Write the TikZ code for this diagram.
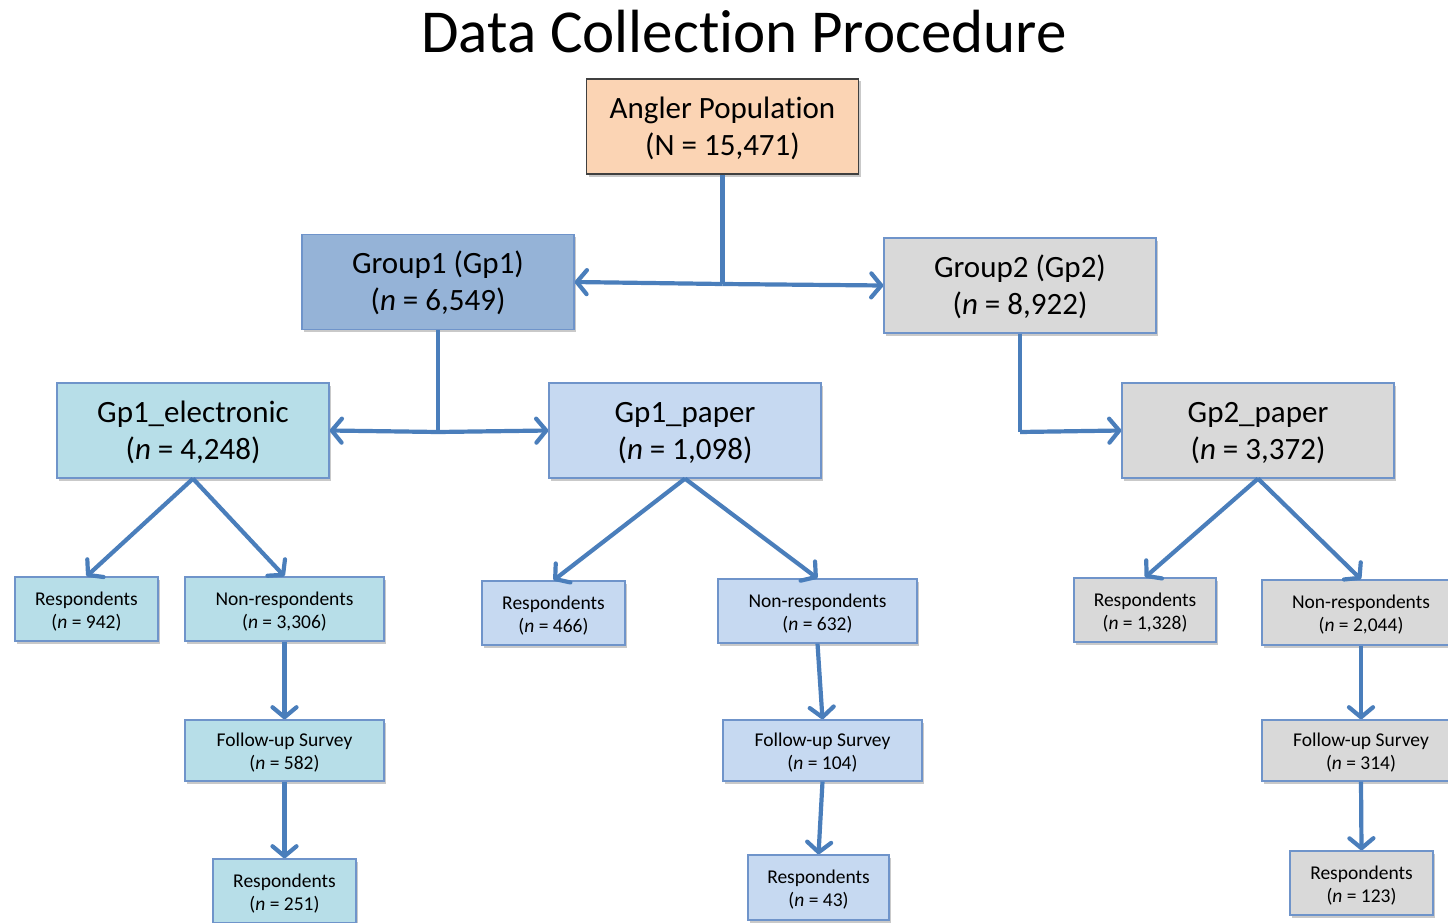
\documentclass[tikz,border=0pt]{standalone}
\usepackage{fontspec}
\setmainfont{Carlito}[RawFeature={-liga;-clig;-calt;-dlig}]
\usetikzlibrary{arrows.meta,shadows}
\definecolor{peach}{HTML}{FBD4B4}
\definecolor{gblue}{HTML}{95B3D7}
\definecolor{ecyan}{HTML}{B7DEE8}
\definecolor{pblue}{HTML}{C6D9F1}
\definecolor{pgrey}{HTML}{D9D9D9}
\definecolor{bordblue}{HTML}{6F94CA}
\definecolor{arrowblue}{HTML}{4A7EBB}
\tikzset{
  x=1pt, y=-1pt,
  basebox/.style={draw=bordblue, line width=1.3pt, inner sep=0pt,
    drop shadow={shadow xshift=2pt, shadow yshift=-2.5pt, opacity=0.35, fill=black!60}},
  bigbox/.style={basebox, minimum width=272pt, minimum height=95pt,
    font=\fontsize{31}{37}\selectfont},
  smallbox/.style={basebox, minimum height=64pt,
    font=\fontsize{19.5}{23}\selectfont},
  conn/.style={draw=arrowblue, line width=4.2pt},
  arr/.style={conn, -{Straight Barb[length=10pt,width=24pt,round]}},
}
\newcommand{\boxtext}[2]{\raisebox{-3pt}[\height][\depth]{\begin{tabular}{@{}c@{}}#1\\#2\end{tabular}}}
\begin{document}
\begin{tikzpicture}
\clip (0,0) rectangle (1448,923);
\fill[white] (0,0) rectangle (1448,923);

\node[font=\fontsize{61}{70}\selectfont] (title) at (744,32) {Data Collec\kern0pt tion Procedure};

\node[bigbox, fill=peach, draw=black!75] (angler) at (722.5,126.5) {\boxtext{Angler Popula\kern0pt tion}{(N = 15,471)}};
\node[bigbox, fill=gblue] (g1) at (438,282) {\boxtext{Group1 (Gp1)}{(\textit{n} = 6,549)}};
\node[bigbox, fill=pgrey] (g2) at (1020,285.5) {\boxtext{Group2 (Gp2)}{(\textit{n} = 8,922)}};
\node[bigbox, fill=ecyan] (g1e) at (193,430.5) {\boxtext{Gp1\_electronic}{(\textit{n} = 4,248)}};
\node[bigbox, fill=pblue] (g1p) at (685,430.5) {\boxtext{Gp1\_paper}{(\textit{n} = 1,098)}};
\node[bigbox, fill=pgrey] (g2p) at (1258,430.5) {\boxtext{Gp2\_paper}{(\textit{n} = 3,372)}};

\node[smallbox, fill=ecyan, minimum width=143pt] (r942) at (86.5,609) {\boxtext{Respondents}{(\textit{n} = 942)}};
\node[smallbox, fill=ecyan, minimum width=199pt] (nr3306) at (284.5,609) {\boxtext{Non-respondents}{(\textit{n} = 3,306)}};
\node[smallbox, fill=ecyan, minimum width=199pt, minimum height=61pt] (f582) at (284.5,750.5) {\boxtext{Follow-up Survey}{(\textit{n} = 582)}};
\node[smallbox, fill=ecyan, minimum width=143pt] (r251) at (284.5,891) {\boxtext{Respondents}{(\textit{n} = 251)}};

\node[smallbox, fill=pblue, minimum width=143pt] (r466) at (553.5,613) {\boxtext{Respondents}{(\textit{n} = 466)}};
\node[smallbox, fill=pblue, minimum width=199pt] (nr632) at (817.5,611) {\boxtext{Non-respondents}{(\textit{n} = 632)}};
\node[smallbox, fill=pblue, minimum width=199pt, minimum height=61pt] (f104) at (822.5,750.5) {\boxtext{Follow-up Survey}{(\textit{n} = 104)}};
\node[smallbox, fill=pblue, minimum width=141pt, minimum height=65pt] (r43) at (818.5,887.5) {\boxtext{Respondents}{(\textit{n} = 43)}};

\node[smallbox, fill=pgrey, minimum width=142pt] (r1328) at (1145,610) {\boxtext{Respondents}{(\textit{n} = 1,328)}};
\node[smallbox, fill=pgrey, minimum width=198pt, minimum height=65pt] (nr2044) at (1361,612.5) {\boxtext{Non-respondents}{(\textit{n} = 2,044)}};
\node[smallbox, fill=pgrey, minimum width=198pt, minimum height=61pt] (f314) at (1361,750.5) {\boxtext{Follow-up Survey}{(\textit{n} = 314)}};
\node[smallbox, fill=pgrey, minimum width=143pt] (r123) at (1361.5,883) {\boxtext{Respondents}{(\textit{n} = 123)}};

% junctions
\coordinate (j1) at (angler.south |- 0,284);
\coordinate (j2) at (g1.south |- 0,432);
\coordinate (j3) at (g2.south |- 0,432);

\draw[conn] (angler.south) -- (j1);
\draw[arr] (j1) -- (g1.east);
\draw[arr] (j1) -- (g2.west);

\draw[conn] (g1.south) -- (j2);
\draw[arr] (j2) -- (g1e.east);
\draw[arr] (j2) -- (g1p.west);

\draw[conn] (g2.south) -- (j3);
\draw[arr] (j3) -- (g2p.west);

\draw[arr] (g1e.south) -- (r942.north);
\draw[arr] (g1e.south) -- (nr3306.north);
\draw[arr] (nr3306.south) -- (f582.north);
\draw[arr] (f582.south) -- (r251.north);

\draw[arr] (g1p.south) -- (r466.north);
\draw[arr] (g1p.south) -- (nr632.north);
\draw[arr] (nr632.south) -- (f104.north);
\draw[arr] (f104.south) -- (r43.north);

\draw[arr] (g2p.south) -- (r1328.north);
\draw[arr] (g2p.south) -- (nr2044.north);
\draw[arr] (nr2044.south) -- (f314.north);
\draw[arr] (f314.south) -- (r123.north);
\end{tikzpicture}
\end{document}
